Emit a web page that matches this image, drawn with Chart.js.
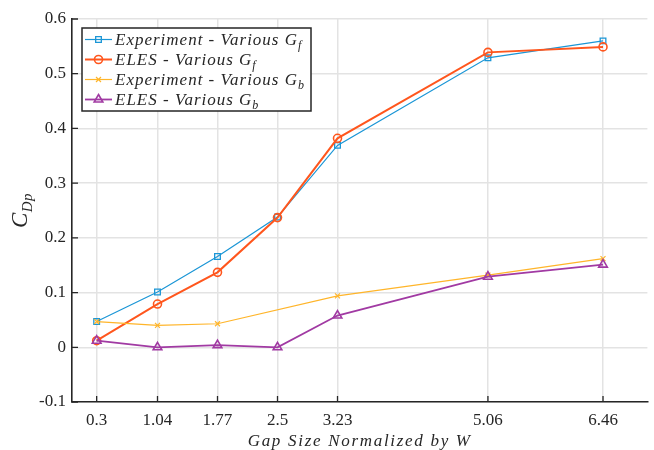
<!DOCTYPE html>
<html>
<head>
<meta charset="utf-8">
<script src="https://cdn.jsdelivr.net/npm/chart.js@4"></script>
<style>
html, body { margin: 0; padding: 0; background: #fff; }
canvas { display: block; }
</style>
</head>
<body>
<canvas id="cdp" width="654" height="450"></canvas>
<script>
// gap sizes (normalized by W) and tick labels on x
var gapTicks = [0.3, 1.04, 1.77, 2.5, 3.23, 5.06, 6.46];
var gapExpB = [0.3, 1.04, 1.77, 3.23, 5.06, 6.46];

// C_Dp values
var expF  = [0.047, 0.101, 0.166, 0.238, 0.369, 0.529, 0.560];
var elesF = [0.012, 0.079, 0.137, 0.237, 0.382, 0.539, 0.549];
var expB  = [0.047, 0.040, 0.043, 0.094, 0.132, 0.162];
var elesB = [0.012, 0.000, 0.004, 0.000, 0.058, 0.129, 0.151];

var seriesLabels = ['Experiment - Various G_f', 'ELES - Various G_f', 'Experiment - Various G_b', 'ELES - Various G_b'];
var xTitle = 'Gap Size Normalized by W';
var yTitle = 'C_Dp';

var serif = '"Liberation Serif", "DejaVu Serif", serif';
var ink = '#262626';

function pts(xs, ys) {
    return xs.map(function (x, i) { return { x: x, y: ys[i] }; });
}

function drawMarker(ctx, style, x, y, r) {
    ctx.beginPath();
    if (style === 'rect') {
        var s = r * Math.SQRT1_2;
        ctx.rect(x - s, y - s, 2 * s, 2 * s);
    } else if (style === 'circle') {
        ctx.arc(x, y, r, 0, Math.PI * 2);
    } else if (style === 'crossRot') {
        var c = r * Math.SQRT1_2;
        ctx.moveTo(x - c, y - c); ctx.lineTo(x + c, y + c);
        ctx.moveTo(x - c, y + c); ctx.lineTo(x + c, y - c);
    } else if (style === 'triangle') {
        for (var k = 0; k < 3; k++) {
            var a = k * Math.PI * 2 / 3;
            var px = x + Math.sin(a) * r, py = y - Math.cos(a) * r;
            if (k === 0) ctx.moveTo(px, py); else ctx.lineTo(px, py);
        }
        ctx.closePath();
    }
    ctx.stroke();
}

// text with a trailing subscript, written as "main_sub"
function subText(ctx, text, x, y, size, subSize, spacing, subDrop, measureOnly) {
    var parts = text.split('_');
    ctx.letterSpacing = spacing + 'px';
    ctx.font = 'italic ' + size + 'px ' + serif;
    var w = ctx.measureText(parts[0]).width;
    if (!measureOnly) ctx.fillText(parts[0], x, y);
    if (parts[1]) {
        ctx.font = 'italic ' + subSize + 'px ' + serif;
        if (!measureOnly) ctx.fillText(parts[1], x + w, y + subDrop);
        w += ctx.measureText(parts[1]).width;
    }
    ctx.letterSpacing = '0px';
    return w;
}

var decor = {
    id: 'decor',
    beforeDatasetsDraw: function (chart) {
        var ctx = chart.ctx, a = chart.chartArea;
        var xs = chart.scales.x, ys = chart.scales.y;
        ctx.save();
        ctx.strokeStyle = ink;
        ctx.lineWidth = 1.3;
        ctx.beginPath();
        xs.ticks.forEach(function (t) {
            var px = xs.getPixelForValue(t.value);
            ctx.moveTo(px, a.bottom); ctx.lineTo(px, a.bottom - 6);
        });
        ys.ticks.forEach(function (t) {
            var py = ys.getPixelForValue(t.value);
            ctx.moveTo(a.left, py); ctx.lineTo(a.left + 6, py);
        });
        ctx.stroke();
        ctx.restore();
    },
    afterDraw: function (chart) {
        var ctx = chart.ctx, a = chart.chartArea;
        ctx.save();
        ctx.fillStyle = ink;
        ctx.textBaseline = 'alphabetic';
        ctx.textAlign = 'left';

        // x title
        var wx = subText(ctx, xTitle, 0, 0, 17, 12, 1.7, 4, true);
        subText(ctx, xTitle, (a.left + a.right) / 2 - wx / 2, 446, 17, 12, 1.7, 4);

        // y title, rotated
        ctx.save();
        ctx.translate(27, (a.top + a.bottom) / 2);
        ctx.rotate(-Math.PI / 2);
        var wy = subText(ctx, yTitle, 0, 0, 23, 15, 0.5, 5, true);
        subText(ctx, yTitle, -wy / 2, 0, 23, 15, 0.5, 5);
        ctx.restore();

        // legend box
        var bx = 82, by = 28, bw = 229, bh = 83;
        ctx.fillStyle = '#fff';
        ctx.fillRect(bx, by, bw, bh);
        ctx.strokeStyle = ink;
        ctx.lineWidth = 1.5;
        ctx.strokeRect(bx, by, bw, bh);
        chart.data.datasets.forEach(function (ds, i) {
            var ry = 39.5 + i * 20;
            ctx.strokeStyle = ds.borderColor;
            ctx.lineWidth = ds.borderWidth;
            ctx.beginPath();
            ctx.moveTo(85, ry); ctx.lineTo(112, ry);
            ctx.stroke();
            ctx.lineWidth = ds.pointBorderWidth;
            drawMarker(ctx, ds.pointStyle, 98.5, ry, ds.pointRadius);
            ctx.fillStyle = ink;
            subText(ctx, ds.label, 115, ry + 5.5, 17, 12, 1, 4);
        });
        ctx.restore();
    }
};

new Chart('cdp', {
    type: 'line',
    data: {
        datasets: [
            {
                label: seriesLabels[0],
                data: pts(gapTicks, expF),
                borderColor: '#1b96d6',
                borderWidth: 1.2,
                pointStyle: 'rect',
                pointRadius: 4,
                pointBorderWidth: 1.3,
                pointBackgroundColor: 'rgba(0,0,0,0)',
                order: 4
            },
            {
                label: seriesLabels[1],
                data: pts(gapTicks, elesF),
                borderColor: '#ff561d',
                borderWidth: 2,
                pointStyle: 'circle',
                pointRadius: 4,
                pointBorderWidth: 1.6,
                pointBackgroundColor: 'rgba(0,0,0,0)',
                order: 3
            },
            {
                label: seriesLabels[2],
                data: pts(gapExpB, expB),
                borderColor: '#ffb52a',
                borderWidth: 1.2,
                pointStyle: 'crossRot',
                pointRadius: 3.5,
                pointBorderWidth: 1.2,
                pointBackgroundColor: 'rgba(0,0,0,0)',
                order: 2
            },
            {
                label: seriesLabels[3],
                data: pts(gapTicks, elesB),
                borderColor: '#a13aa3',
                borderWidth: 1.8,
                pointStyle: 'triangle',
                pointRadius: 5,
                pointBorderWidth: 1.6,
                pointBackgroundColor: 'rgba(0,0,0,0)',
                order: 1
            }
        ]
    },
    options: {
        responsive: false,
        devicePixelRatio: 1,
        animation: false,
        events: [],
        layout: { padding: { top: 19, right: 0, left: 0, bottom: 0 } },
        plugins: {
            legend: { display: false },
            tooltip: { enabled: false }
        },
        scales: {
            x: {
                type: 'linear',
                min: 0,
                max: 7,
                afterBuildTicks: function (s) {
                    s.ticks = gapTicks.map(function (v) { return { value: v }; });
                },
                afterFit: function (s) { s.height = 48; },
                ticks: {
                    autoSkip: false,
                    maxRotation: 0,
                    padding: 8,
                    color: ink,
                    font: { family: serif, size: 17 },
                    callback: function (v) { return String(v); }
                },
                grid: { color: '#e3e3e3', lineWidth: 1.5, drawTicks: false },
                border: { display: true, color: ink, width: 1.6 }
            },
            y: {
                min: -0.1,
                max: 0.6,
                afterFit: function (s) { s.width = 72; },
                ticks: {
                    stepSize: 0.1,
                    padding: 6,
                    color: ink,
                    font: { family: serif, size: 17 },
                    callback: function (v) { return String(Number(v.toFixed(1))); }
                },
                grid: { color: '#e3e3e3', lineWidth: 1.5, drawTicks: false },
                border: { display: true, color: ink, width: 1.6 }
            }
        }
    },
    plugins: [decor]
});
</script>
</body>
</html>
